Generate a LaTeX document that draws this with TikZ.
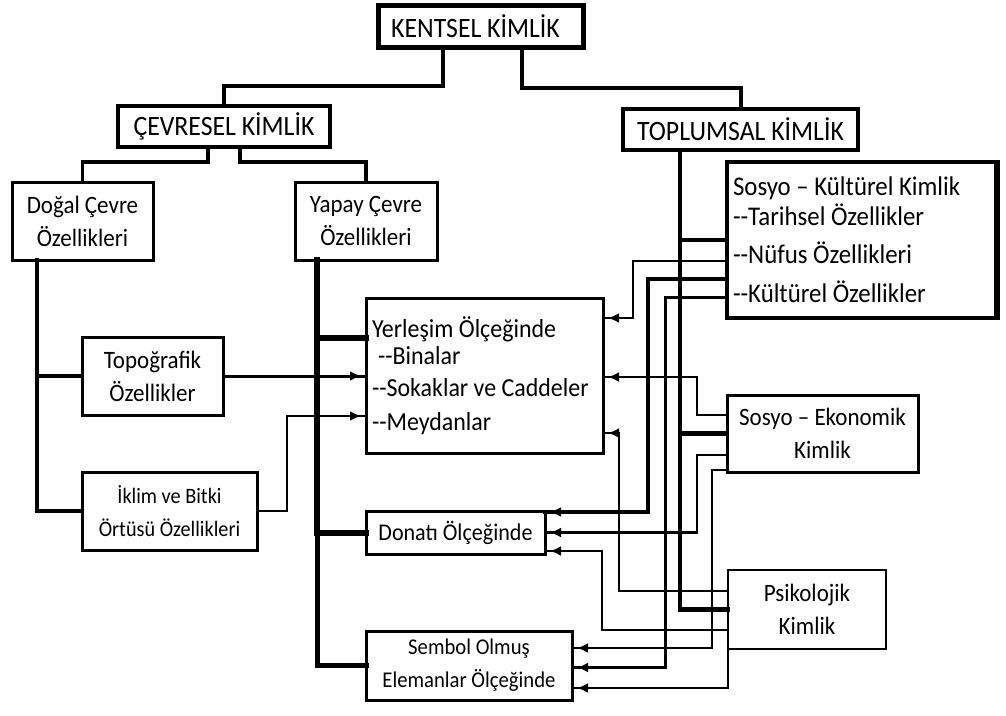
\documentclass[tikz,border=0pt]{standalone}
\usepackage{fontspec}
\setmainfont{Carlito}[FakeStretch=0.92]
\usetikzlibrary{arrows.meta,decorations.markings,calc}
% two separate hyphens, kept apart from the en-dash ligature
\newcommand\dbl{\mbox{-}\mbox{-}}

\begin{document}
\begin{tikzpicture}[x=1pt,y=-1pt,
  box/.style={draw, line width=3pt, inner sep=0pt, outer sep=0pt, align=center,
    font=\fontsize{25}{33}\selectfont},
  head/.style={box, line width=4pt, font=\fontsize{28}{30}\selectfont},
  listbox/.style={box, align=flush left, inner xsep=6pt, inner ysep=0pt},
  link/.style={line width=#1, line join=miter, line cap=rect},
  link/.default=2.5pt,
  arrowin/.style={postaction={decorate}, decoration={markings,
    mark=at position -5pt with {\arrow{Latex[length=11pt,width=10pt]}}}}
]
\useasboundingbox (0,0) rectangle (1006,715);

% ---- boxes ----
\node[head, line width=5pt, minimum width=205pt, minimum height=42pt] (ken) at (480.5,26) {KENTSEL KİMLİK\hspace*{10pt}};
\node[head, minimum width=212pt, minimum height=41pt] (cev) at (224,126.5) {ÇEVRESEL KİMLİK};
\node[head, minimum width=235pt, minimum height=41pt] (top) at (740.5,129.5) {TOPLUMSAL KİMLİK};

\node[box, minimum width=141pt, minimum height=78pt] (dog) at (82.5,221) {Doğal Çevre\\Özellikleri};
\node[box, minimum width=142pt, minimum height=78pt] (yap) at (366,221) {Yapay Çevre\\Özellikleri};
\node[box, minimum width=141pt, minimum height=78pt] (topo) at (152.5,376) {Topoğrafik\\Özellikler};
\node[box, font=\fontsize{22}{33}\selectfont, minimum width=175pt, minimum height=78pt] (ikl) at (169.5,511) {İklim ve Bitki\\Örtüsü Özellikleri};

\node[listbox, line width=4pt, text width=259pt, minimum height=156pt,
  font=\fontsize{27}{30}\selectfont] (sk) at (862.5,240)
  {Sosyo – Kültürel Kimlik\\\dbl Tarihsel Özellikler\\[8pt]
   \dbl Nüfus Özellikleri\\[9pt]\dbl Kültürel Özellikler};
\node[listbox, text width=225pt, minimum height=155pt,
  font=\fontsize{26}{27}\selectfont] (yer) at (484.5,375.5)
  {Yerleşim Ölçeğinde\\\hspace*{6pt}\dbl Binalar\\[5pt]
   \dbl Sokaklar ve Caddeler\\[7pt]\dbl Meydanlar};
\node[box, minimum width=191pt, minimum height=77pt] (se) at (822.5,433.5) {Sosyo – Ekonomik\\Kimlik};
\node[box, font=\fontsize{24}{30}\selectfont, minimum width=179pt, minimum height=43pt] (don) at (455.5,532.5) {Donatı Ölçeğinde};
\node[box, line width=2.5pt, minimum width=158pt, minimum height=79pt] (psi) at (807,609.5) {Psikolojik\\Kimlik};
\node[box, font=\fontsize{22.5}{33}\selectfont, minimum width=206pt, minimum height=69pt] (sem) at (469,665.5) {Sembol Olmuş\\Elemanlar Ölçeğinde};
\draw[line width=6pt] ($(sk.north east)+(-1.5,0)$) -- ($(sk.south east)+(-1.5,0)$);

% ---- hierarchy ----
\draw[link=4pt] ($(ken.south)+(-38,0)$) |- ($(cev.north)+(0,-20)$) -- (cev.north);
\draw[link=4pt] ($(ken.south)+(41,0)$) |- ($(top.north)+(0,-21)$) -- (top.north);
\draw[link=3.5pt] ($(cev.south)+(-16,0)$) |- ($(dog.north)+(0,-20)$) -- (dog.north);
\draw[link=3.5pt] ($(cev.south)+(16,0)$) |- ($(yap.north)+(0,-20)$) -- (yap.north);

% ---- natural environment ----
\draw[link=4pt] ($(dog.south)+(-45.5,0)$) |- (topo.west);
\draw[link=4.5pt] ($(dog.south)+(-45.5,0)$) |- (ikl.west);
\draw[link=3pt, arrowin] (topo.east) -- (topo.east -| yer.west);
\draw[link=2pt, arrowin] (ikl.east) -- ++(30,0) |- ($(yer.west)+(0,40.5)$);

% ---- built environment ----
\draw[link=5pt] ($(yap.south)+(-49,0)$) |- (sem.west);
\draw[link=6pt] ($(yap.south)+(-49,0)$) |- ($(yer.west)+(0,-37.5)$);
\draw[link=6pt] ($(yap.south)+(-49,0)$) |- (don.west);

% ---- social identity trunk ----
\draw[link=4pt] ($(top.south)+(-60.5,0)$) |- (sk.west);
\draw[link=4.5pt] ($(top.south)+(-60.5,0)$) |- (se.west);
\draw[link=4.5pt] ($(top.south)+(-60.5,0)$) |- (psi.west);

% ---- socio-cultural ----
\draw[link=2.5pt, arrowin] ($(sk.west)+(0,21)$) -- ++(-94,0) |- ($(yer.east)+(0,-57.5)$);
\draw[link=3.5pt, arrowin] ($(sk.west)+(0,39)$) -- ++(-79,0) |- ($(don.east)+(0,-20.5)$);
\draw[link=3pt, arrowin] ($(sk.west)+(0,57)$) -- ++(-62,0) |- ($(sem.east)+(0,2)$);

% ---- socio-economic ----
\draw[link=2.5pt, arrowin] ($(se.west)+(0,-18.5)$) -- ++(-30,0) |- ($(yer.east)+(0,1.5)$);
\draw[link=2.5pt, arrowin] ($(se.west)+(0,21.5)$) -- ++(-30,0) |- (don.east);
\draw[link=2.5pt, arrowin] ($(se.west)+(0,36.5)$) -- ++(-15,0) |- ($(sem.east)+(0,-17.5)$);

% ---- psychological ----
\draw[link=2.5pt, arrowin] ($(psi.west)+(0,-18.5)$) -- ++(-109,0) |- ($(yer.east)+(0,57.5)$);
\draw[link=2.5pt, arrowin] ($(psi.west)+(0,20.5)$) -- ++(-126,0) |- ($(don.east)+(0,18.5)$);
\draw[link=2.5pt, arrowin] (psi.south west) |- ($(sem.east)+(0,22.5)$);
\end{tikzpicture}
\end{document}
